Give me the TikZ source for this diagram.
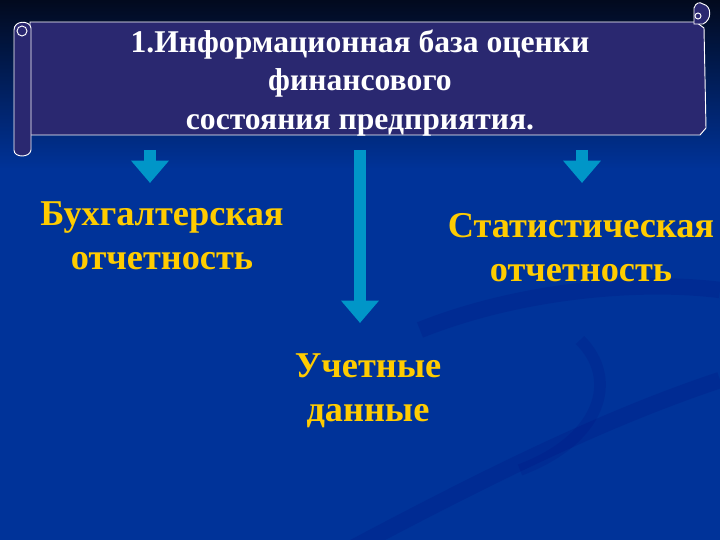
\documentclass[tikz,border=0pt]{standalone}
\usepackage{fontspec}
\setmainfont{Liberation Serif}
\usetikzlibrary{arrows.meta}
\definecolor{bgblue}{RGB}{0,51,153}
\definecolor{bgtop}{RGB}{2,10,30}
\definecolor{scroll}{RGB}{42,40,112}
\definecolor{arrowblue}{RGB}{0,150,200}
\definecolor{labelyellow}{RGB}{255,204,0}
\tikzset{
  banner/.style={fill=scroll, draw=white, line width=0.8pt},
  heading/.style={text=white, font=\fontsize{27}{33}\selectfont\bfseries, align=center},
  label/.style={text=labelyellow, font=\fontsize{31}{37.5}\selectfont\bfseries, align=center},
  blockarrow/.style={draw=arrowblue, line width=11pt, -{Triangle[width=31pt,length=19pt]}}
}
\begin{document}
\begin{tikzpicture}[x=0.03cm,y=-0.03cm]
       \useasboundingbox (0,0) rectangle (720,540);
       \fill[bgblue] (0,0) rectangle (720,540);
       \shade[top color=bgtop, bottom color=bgblue] (0,0) rectangle (720,170);
       \draw[line width=14pt, blue!45!black, opacity=0.15] (420,330) .. controls (520,290) and (640,280) .. (720,290);
       \draw[line width=14pt, blue!45!black, opacity=0.15] (330,560) .. controls (480,480) and (600,420) .. (720,380);
       \draw[line width=10pt, blue!45!black, opacity=0.12] (580,340) .. controls (620,380) and (600,440) .. (520,470);
       \draw[banner] (30,22) -- (696,22) -- (704,28) -- (706,128) -- (700,135) -- (30,135) -- cycle;
       \draw[banner] (703,4) .. controls (712,6) and (712,20) .. (703,24) -- (694,24) -- (694,8) .. controls (696,2) and (700,2) .. (703,4);
       \draw[white, line width=0.8pt] (698,16) circle (3);
       \draw[banner] (14,30) .. controls (14,20) and (30,20) .. (31,28) -- (31,150) .. controls (30,158) and (14,158) .. (14,150) -- cycle;
       \draw[white, line width=0.8pt] (22,31) circle (5);
       \node[heading] (base) at (360,83) {1.Информационная база оценки\\финансового\\состояния предприятия.};
       \node[label] (buh) at (162,236) {Бухгалтерская\\отчетность};
       \node[label] (stat) at (581,248) {Статистическая\\отчетность};
       \node[label] (uchet) at (368,391) {Учетные\\данные};
       \coordinate (a1) at (150,150);
       \coordinate (a2) at (360,150);
       \coordinate (a3) at (582,150);
       \coordinate (b1) at (150,183);
       \coordinate (b2) at (360,323);
       \coordinate (b3) at (582,183);
       \draw[blockarrow] (a1) -- (b1);
       \draw[blockarrow] (a2) -- (b2);
       \draw[blockarrow] (a3) -- (b3);
\end{tikzpicture}
\end{document}
